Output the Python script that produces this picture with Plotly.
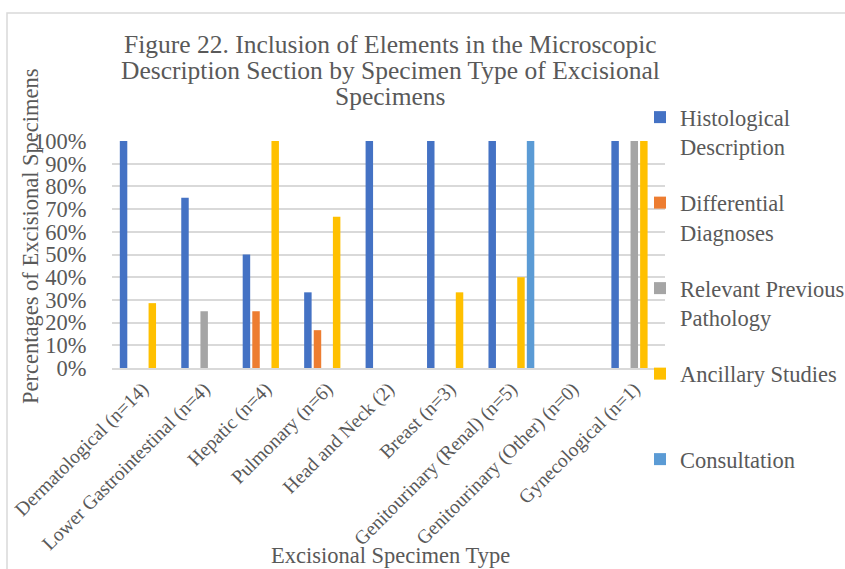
import plotly.graph_objects as go

# Specimen types on the x axis
categories = [
    "Dermatological (n=14)",
    "Lower Gastrointestinal (n=4)",
    "Hepatic (n=4)",
    "Pulmonary (n=6)",
    "Head and Neck (2)",
    "Breast (n=3)",
    "Genitourinary (Renal) (n=5)",
    "Genitourinary (Other) (n=0)",
    "Gynecological (n=1)",
]

# Share of excisional specimens including each element (fraction of 1)
histological = [1.0, 0.75, 0.50, 2 / 6, 1.0, 1.0, 1.0, 0.0, 1.0]
differential = [0.0, 0.0, 0.25, 1 / 6, 0.0, 0.0, 0.0, 0.0, 0.0]
relevant_prev = [0.0, 0.25, 0.0, 0.0, 0.0, 0.0, 0.0, 0.0, 1.0]
ancillary = [4 / 14, 0.0, 1.0, 4 / 6, 0.0, 1 / 3, 0.40, 0.0, 1.0]
consultation = [0.0, 0.0, 0.0, 0.0, 0.0, 0.0, 1.0, 0.0, 0.0]

series = [
    ("Histological<br>Description", histological, "#4472C4"),
    ("Differential<br>Diagnoses", differential, "#ED7D31"),
    ("Relevant Previous<br>Pathology", relevant_prev, "#A5A5A5"),
    ("Ancillary Studies<br>&nbsp;", ancillary, "#FFC000"),
    ("Consultation<br>&nbsp;", consultation, "#5B9BD5"),
]

y_ticks = [i / 10 for i in range(11)]
y_tick_text = [f"{i * 10}%" for i in range(11)]

title_lines = [
    "Figure 22. Inclusion of Elements in the Microscopic",
    "Description Section by Specimen Type of Excisional",
    "Specimens",
]

FONT = "Liberation Serif, Times New Roman, serif"
TEXT = "#595959"

W, H = 845, 569
L, R, T, B = 112, 180, 141, 201
pw, ph = W - L - R, H - T - B


def px_x(px):
    return (px - L) / pw


def px_y(py):
    return (H - B - py) / ph


fig = go.Figure()
for i, (name, vals, color) in enumerate(series):
    fig.add_trace(
        go.Bar(
            x=categories,
            y=vals,
            name=name,
            marker=dict(color=color, line=dict(width=0)),
            legendgroup=f"g{i}",
        )
    )

annotations = []
for k, line in enumerate(title_lines):
    annotations.append(
        dict(
            text=line,
            xref="paper",
            yref="paper",
            x=px_x(390),
            y=px_y(44 + 26 * k),
            xanchor="center",
            yanchor="middle",
            showarrow=False,
            font=dict(family=FONT, size=25.5, color=TEXT),
        )
    )
annotations += [
    dict(
        text="Percentages of Excisional Specimens",
        xref="paper",
        yref="paper",
        x=px_x(30),
        y=px_y(236),
        xanchor="center",
        yanchor="middle",
        textangle=-90,
        showarrow=False,
        font=dict(family=FONT, size=22.5, color=TEXT),
    ),
    dict(
        text="Excisional Specimen Type",
        xref="paper",
        yref="paper",
        x=px_x(390),
        y=px_y(555),
        xanchor="center",
        yanchor="middle",
        showarrow=False,
        font=dict(family=FONT, size=22.5, color=TEXT),
    ),
]

fig.update_layout(
    width=W,
    height=H,
    margin=dict(l=L, r=R, t=T, b=B, autoexpand=False),
    paper_bgcolor="white",
    plot_bgcolor="white",
    barmode="group",
    bargap=0.22,
    bargroupgap=0.22,
    font=dict(family=FONT, color=TEXT, size=20),
    showlegend=True,
    legend=dict(
        x=px_x(640),
        y=px_y(96),
        xanchor="left",
        yanchor="top",
        valign="top",
        font=dict(family=FONT, size=22.5, color=TEXT),
        tracegroupgap=24,
        itemwidth=30,
        maxheight=470,
        bgcolor="rgba(0,0,0,0)",
    ),
    xaxis=dict(
        automargin=False,
        tickangle=-45,
        tickfont=dict(family=FONT, size=19.5, color=TEXT),
        showgrid=False,
        showline=True,
        linecolor="#D9D9D9",
        linewidth=1.5,
        ticks="",
    ),
    yaxis=dict(
        automargin=False,
        range=[0, 1],
        tickvals=y_ticks,
        ticktext=y_tick_text,
        tickfont=dict(family=FONT, size=22.5, color=TEXT),
        showgrid=True,
        gridcolor="#D9D9D9",
        gridwidth=1.5,
        zeroline=False,
        ticks="outside",
        ticklen=20,
        tickwidth=1,
        tickcolor="white",
        ticklabelposition="outside",
    ),
    shapes=[
        dict(
            type="rect",
            xref="paper",
            yref="paper",
            x0=px_x(7),
            x1=px_x(860),
            y0=px_y(585),
            y1=px_y(13),
            line=dict(color="#D9D9D9", width=1.5),
            fillcolor="rgba(0,0,0,0)",
            layer="below",
        )
    ],
    annotations=annotations,
)

fig.write_html(
    "out.html",
    post_script="document.body.style.margin='0';document.body.style.overflow='hidden';",
)
